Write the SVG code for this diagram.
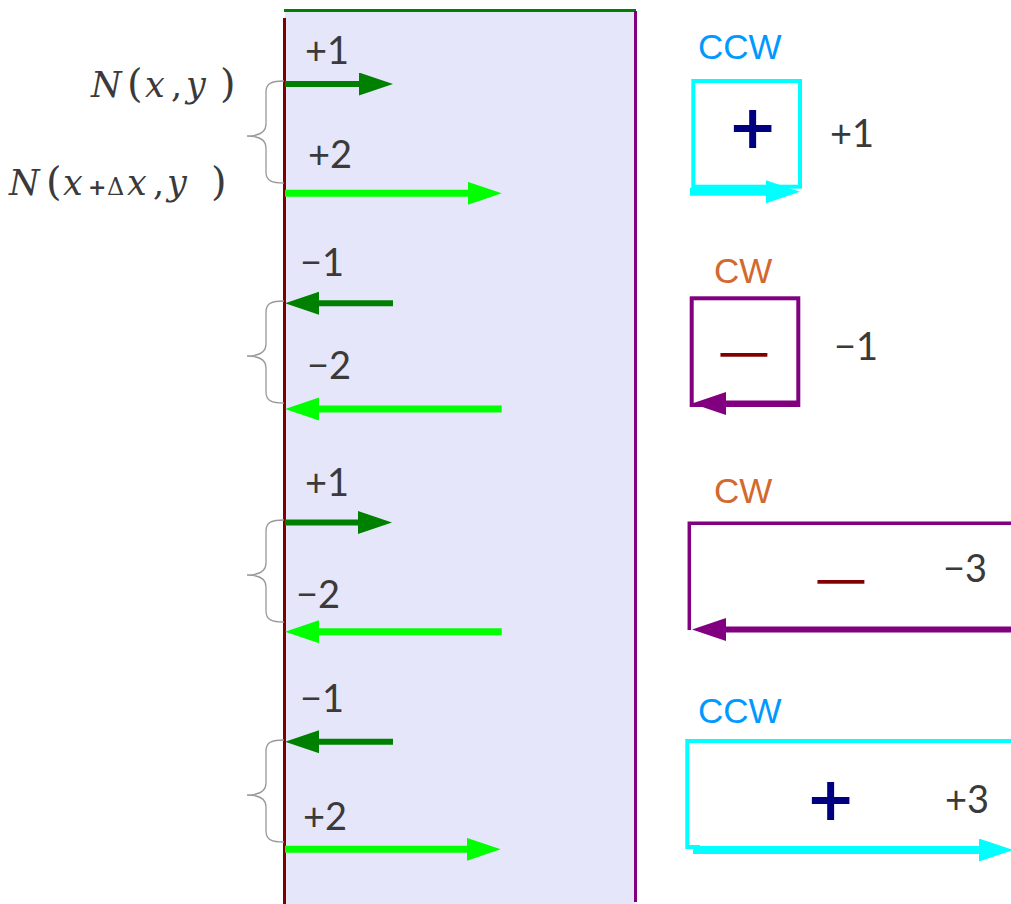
<svg xmlns="http://www.w3.org/2000/svg" width="1011" height="904" viewBox="0 0 1011 904">
<style>
.lbl{font-family:Lato,"Liberation Sans",sans-serif;font-size:38px;fill:#3a3a3a}
.math{font-family:"DejaVu Serif","Liberation Serif",serif;font-size:35px;fill:#3a3a3a}
.it{font-style:italic}
.par{font-size:40px}
.sm{font-size:22px;font-weight:bold}
.dl{font-size:24px}
.ccw{font-family:"Liberation Sans",Arial,sans-serif;font-size:35px;fill:#0099ff}
.cw{font-family:"Liberation Sans",Arial,sans-serif;font-size:35px;fill:#d2692e}
.plus{font-family:"DejaVu Sans",sans-serif;font-weight:bold;font-size:60px;fill:#000080}
.minus{font-family:"DejaVu Sans",sans-serif;font-size:75px;fill:#800000}
.brace{fill:none;stroke:#999;stroke-width:1.3}
.dg{stroke:#008000;stroke-width:6;fill:none}
.bg{stroke:#00ff00;stroke-width:7;fill:none}
.pu{stroke:#800080;stroke-width:6;fill:none}
.cy{stroke:#00ffff;stroke-width:8;fill:none}
</style>
<defs>
<marker id="hdg" markerUnits="userSpaceOnUse" markerWidth="36" markerHeight="24" refX="2" refY="11.5" orient="auto"><path d="M0,0 L34,11.5 L0,23 z" fill="#008000"/></marker>
<marker id="hbg" markerUnits="userSpaceOnUse" markerWidth="36" markerHeight="24" refX="2" refY="11.5" orient="auto"><path d="M0,0 L34,11.5 L0,23 z" fill="#00ff00"/></marker>
<marker id="hpu" markerUnits="userSpaceOnUse" markerWidth="36" markerHeight="24" refX="2" refY="11.5" orient="auto"><path d="M0,0 L34,11.5 L0,23 z" fill="#800080"/></marker>
<marker id="hcy" markerUnits="userSpaceOnUse" markerWidth="36" markerHeight="24" refX="2" refY="11.5" orient="auto"><path d="M0,0 L34,11.5 L0,23 z" fill="#00ffff"/></marker>
<path id="br" d="M0,0 C-12,0 -18,2 -18,11 V43 C-18,51 -24,55 -37,55 C-24,55 -18,59 -18,67 V91 C-18,100 -12,102 0,102"/>
</defs>

<g id="panel">
<rect x="285" y="11" width="350" height="893" fill="#e6e6fa"/>
<path d="M284,10.5 H636" stroke="#008000" stroke-width="3"/>
<path d="M635.5,11 V902" stroke="#800080" stroke-width="3"/>
<path d="M284.5,18 V904" stroke="#800000" stroke-width="3"/>
</g>

<g id="braces">
<use href="#br" class="brace" transform="translate(284,81)"/>
<use href="#br" class="brace" transform="translate(284,301)"/>
<use href="#br" class="brace" transform="translate(284,520)"/>
<use href="#br" class="brace" transform="translate(284,740)"/>
</g>

<g id="math-labels">
<text class="math" y="97"><tspan x="91" class="it">N</tspan><tspan x="127" class="par">(</tspan><tspan x="145" class="it">x</tspan><tspan x="171">,</tspan><tspan x="186" class="it">y</tspan><tspan x="220" class="par">)</tspan></text>
<text class="math" y="195"><tspan x="9" class="it">N</tspan><tspan x="46" class="par">(</tspan><tspan x="63" class="it">x</tspan><tspan x="88" class="sm">+</tspan><tspan x="107" class="dl">Δ</tspan><tspan x="127" class="it">x</tspan><tspan x="153">,</tspan><tspan x="167" class="it">y</tspan><tspan x="211" class="par">)</tspan></text>
</g>

<g id="connectors">
<path class="dg" d="M285,84 H361" marker-end="url(#hdg)"/>
<path class="bg" d="M285,193.3 H469.7" marker-end="url(#hbg)"/>
<path class="dg" d="M393,303.3 H317" marker-end="url(#hdg)"/>
<path class="bg" d="M501.7,409 H317" marker-end="url(#hbg)"/>
<path class="dg" d="M285,522.5 H360" marker-end="url(#hdg)"/>
<path class="bg" d="M501.7,631.7 H317" marker-end="url(#hbg)"/>
<path class="dg" d="M393,741.7 H317" marker-end="url(#hdg)"/>
<path class="bg" d="M285,849.3 H468.7" marker-end="url(#hbg)"/>
</g>

<g id="edge-labels">
<text class="lbl" x="305" y="64">+1</text>
<text class="lbl" x="308" y="168">+2</text>
<text class="lbl" x="300" y="276">−1</text>
<text class="lbl" x="307" y="379">−2</text>
<text class="lbl" x="305" y="496">+1</text>
<text class="lbl" x="296" y="608">−2</text>
<text class="lbl" x="300" y="712">−1</text>
<text class="lbl" x="303" y="830">+2</text>
</g>

<g id="loop1">
<text class="ccw" x="698" y="59">CCW</text>
<rect x="693.3" y="81" width="106.7" height="105.7" fill="none" stroke="#00ffff" stroke-width="4"/>
<path class="cy" d="M690,191.7 H768" marker-end="url(#hcy)"/>
<text class="plus" x="752.7" y="148" text-anchor="middle">+</text>
<text class="lbl" x="830" y="147">+1</text>
</g>

<g id="loop2">
<text class="cw" x="714" y="283">CW</text>
<rect x="691.7" y="298.3" width="106.6" height="106.7" fill="none" stroke="#800080" stroke-width="4"/>
<path class="pu" d="M798,403.5 H724" marker-end="url(#hpu)"/>
<text class="minus" transform="translate(744,353.3) scale(1,0.6)" x="0" y="26" text-anchor="middle">−</text>
<text class="lbl" x="834" y="360">−1</text>
</g>

<g id="loop3">
<text class="cw" x="714" y="503">CW</text>
<path d="M1015,523.3 H689.3 V630" fill="none" stroke="#800080" stroke-width="3.5"/>
<path class="pu" d="M1015,629.5 H724" marker-end="url(#hpu)"/>
<text class="minus" transform="translate(841,580.7) scale(1,0.6)" x="0" y="26" text-anchor="middle">−</text>
<text class="lbl" x="943" y="582">−3</text>
</g>

<g id="loop4">
<text class="ccw" x="698" y="723">CCW</text>
<path d="M1015,741 H687.3 V847 H700" fill="none" stroke="#00ffff" stroke-width="4"/>
<path class="cy" d="M693,850 H981" marker-end="url(#hcy)"/>
<text class="plus" x="830.7" y="819.5" text-anchor="middle">+</text>
<text class="lbl" x="945" y="813">+3</text>
</g>
</svg>
